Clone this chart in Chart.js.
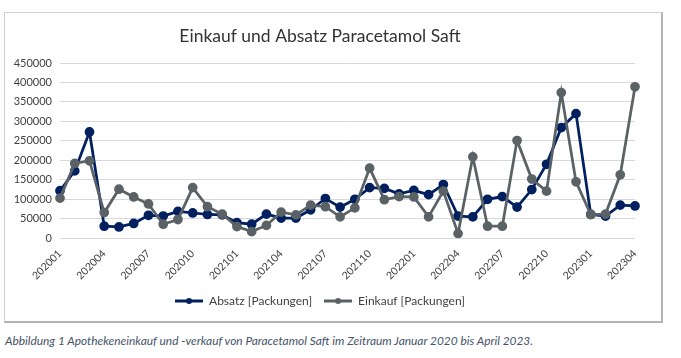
<!DOCTYPE html>
<html>
<head>
<meta charset="utf-8">
<script src="https://cdn.jsdelivr.net/npm/chart.js@4"></script>
<style>
    html, body { margin: 0; padding: 0; background: #fff; }
    body { width: 681px; height: 358px; position: relative; overflow: hidden; }
    #frame {
        position: absolute; left: 4px; top: 12px; width: 656px; height: 308px;
        border: 1px solid #d0d0d0; border-right: 2px solid #b4b4b4; border-bottom: 2px solid #b4b4b4;
    }
    #frame canvas { display: block; }
    #caption {
        position: absolute; left: 5px; top: 333px;
        font-family: Lato, "Open Sans", sans-serif; font-style: italic; font-size: 11.9px;
        color: #44546A; white-space: nowrap;
    }
</style>
</head>
<body>
<div id="frame"><canvas id="chart" width="656" height="308"></canvas></div>
<div id="caption">Abbildung 1 Apothekeneinkauf und -verkauf von Paracetamol Saft im Zeitraum Januar 2020 bis April 2023.</div>
<script>
// Monate Jan 2020 bis Apr 2023
const months = [
    '202001', '202002', '202003', '202004', '202005', '202006', '202007', '202008', '202009', '202010', '202011', '202012',
    '202101', '202102', '202103', '202104', '202105', '202106', '202107', '202108', '202109', '202110', '202111', '202112',
    '202201', '202202', '202203', '202204', '202205', '202206', '202207', '202208', '202209', '202210', '202211', '202212',
    '202301', '202302', '202303', '202304'
];

// Absatz [Packungen]
const absatz = [
    122000, 173000, 273000, 31000, 29000, 38000, 59000, 57000, 69000, 65000, 61000, 60000,
    40000, 36000, 62000, 52000, 52000, 73000, 102000, 80000, 100000, 130000, 128000, 114000,
    123000, 112000, 138000, 57000, 55000, 100000, 107000, 80000, 125000, 190000, 284000, 320000,
    61000, 57000, 85000, 83000
];

// Einkauf [Packungen]
const einkauf = [
    103000, 192000, 199000, 66000, 126000, 106000, 88000, 36000, 48000, 130000, 81000, 62000,
    30000, 17000, 33000, 67000, 60000, 85000, 81000, 55000, 78000, 180000, 99000, 107000,
    106000, 55000, 121000, 12000, 209000, 31000, 31000, 251000, 152000, 121000, 374000, 145000,
    61000, 62000, 163000, 389000
];

const yTicks = [0, 50000, 100000, 150000, 200000, 250000, 300000, 350000, 400000, 450000];

const FONT = 'Lato';
const blue = '#002060';
const gray = '#5a6266';

// kleines Legenden-Symbol: Linie mit Punkt
const legendIcon = (color) => {
    const c = document.createElement('canvas');
    c.width = 28;
    c.height = 8;
    const g = c.getContext('2d');
    g.strokeStyle = color;
    g.lineWidth = 3;
    g.beginPath();
    g.moveTo(0, 4);
    g.lineTo(28, 4);
    g.stroke();
    g.fillStyle = color;
    g.beginPath();
    g.arc(14, 4, 3, 0, Math.PI * 2);
    g.fill();
    return c;
};

const lineDataset = (label, data, color) => ({
    label: label,
    data: data,
    borderColor: color,
    backgroundColor: color,
    borderWidth: 2.75,
    pointRadius: 3.5,
    pointBackgroundColor: color,
    pointBorderColor: color,
    pointStyle: 'circle',
    tension: 0
});

new Chart(document.getElementById('chart'), {
    type: 'line',
    data: {
        labels: months,
        // Einkauf zuerst, damit er oben liegt; Legende wird umgedreht
        datasets: [
            lineDataset('Einkauf [Packungen]', einkauf, gray),
            lineDataset('Absatz [Packungen]', absatz, blue)
        ]
    },
    options: {
        responsive: false,
        animation: false,
        layout: { padding: { top: 2, right: 26, bottom: 4, left: 0 } },
        plugins: {
            title: {
                display: true,
                text: 'Einkauf und Absatz Paracetamol Saft',
                color: '#333333',
                font: { family: FONT, size: 17.5, weight: 'normal' },
                padding: { top: 11, bottom: 16 }
            },
            legend: {
                position: 'bottom',
                reverse: true,
                labels: {
                    color: '#404040',
                    font: { family: FONT, size: 12 },
                    usePointStyle: true,
                    pointStyleWidth: 28,
                    boxHeight: 8,
                    padding: 12,
                    generateLabels: (chart) => {
                        const items = Chart.defaults.plugins.legend.labels.generateLabels(chart);
                        items.forEach((it) => {
                            const ds = chart.data.datasets[it.datasetIndex];
                            it.pointStyle = legendIcon(ds.borderColor);
                        });
                        return items;
                    }
                }
            },
            tooltip: { enabled: false }
        },
        scales: {
            x: {
                offset: false,
                grid: { display: false },
                border: { display: false },
                ticks: {
                    autoSkip: false,
                    minRotation: 45,
                    maxRotation: 45,
                    color: '#404040',
                    font: { family: FONT, size: 10.5 },
                    padding: 1,
                    callback: (value, index) => (index % 3 === 0 ? months[index] : '')
                }
            },
            y: {
                min: yTicks[0],
                max: yTicks[yTicks.length - 1],
                afterBuildTicks: (scale) => { scale.ticks = yTicks.map((v) => ({ value: v })); },
                afterFit: (scale) => { scale.width = 55; },
                grid: { color: '#d9d9d9', lineWidth: 1, drawTicks: false },
                border: { display: false },
                ticks: {
                    color: '#404040',
                    font: { family: FONT, size: 11 },
                    padding: 8,
                    callback: (value) => String(value)
                }
            }
        }
    }
});
</script>
</body>
</html>
